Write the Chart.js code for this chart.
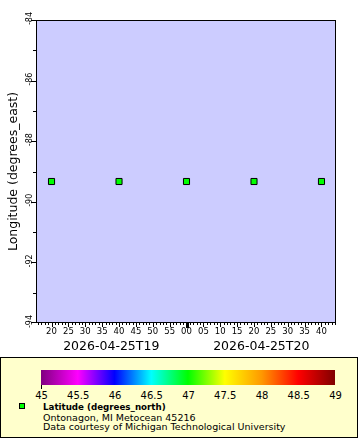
<!DOCTYPE html>
<html><head><meta charset="utf-8">
<script src="https://cdn.jsdelivr.net/npm/chart.js@4.4.1/dist/chart.umd.min.js"></script>
<style>
html,body{margin:0;padding:0;background:#fff;}
body{width:360px;height:440px;position:relative;overflow:hidden;font-family:"DejaVu Sans",sans-serif;color:#000;}
#wrap{position:absolute;left:0;top:0;width:360px;height:355px;}
#legend{position:absolute;left:0;top:357px;width:356px;height:79px;border:1px solid #000;background:#ffffcc;}
#cbar{position:absolute;left:40px;top:12px;width:294px;height:15px;}
.cbt{position:absolute;top:27px;width:1px;height:4px;background:#000;}
.cbl{position:absolute;top:32px;font-size:10px;line-height:12px;transform:translateX(-50%);white-space:nowrap;}
#lmark{position:absolute;left:18px;top:45px;width:4px;height:4px;border:1px solid #000;background:#00ff00;}
#ltext{position:absolute;left:42px;top:45px;white-space:nowrap;}
#ltext div{height:9.5px;line-height:9.5px;}
.b{font-weight:bold;font-size:8.7px;}
.r{font-size:9.5px;}
</style>
</head><body>
<div id="wrap"><canvas id="c" width="360" height="355"></canvas></div>
<div id="legend">
  <div id="cbar"></div>
  <div id="lmark"></div>
  <div id="ltext">
    <div class="b">Latitude (degrees_north)</div>
    <div class="r">Ontonagon, MI Metocean 45216</div>
    <div class="r">Data courtesy of Michigan Technological University</div>
  </div>
</div>
<script>
// ---- data (times are minutes after 2026-04-25T19:00) ----
const times = ["19:20", "19:40", "20:00", "20:20", "20:40"];
const longitudes = [-89.33, -89.33, -89.33, -89.33, -89.33];
const xTickValues = [20, 25, 30, 35, 40, 45, 50, 55, 60, 65, 70, 75, 80, 85, 90, 95, 100];
const xTickLabels = ["20","25","30","35","40","45","50","55","00","05","10","15","20","25","30","35","40"];
const yTickValues = [-94, -92, -90, -88, -86, -84];
const yTickLabels = ["-94", "-92", "-90", "-88", "-86", "-84"];
const yMinorValues = [-93, -91, -89, -87, -85];
const dateLabels = ["2026-04-25T19", "2026-04-25T20"];
const dateStarts = [0, 60];
const cbValues = [45, 45.5, 46, 46.5, 47, 47.5, 48, 48.5, 49];
const cbLabels = ["45", "45.5", "46", "46.5", "47", "47.5", "48", "48.5", "49"];
const cbColors = ["#800080", "#ff00ff", "#0000ff", "#00ffff", "#00ff00", "#ffff00", "#ff9900", "#ff0000", "#800000"];

const toMin = s => { const [h, m] = s.split(":").map(Number); return (h - 19) * 60 + m; };
const points = times.map((t, i) => ({x: toMin(t), y: longitudes[i]}));

// colour bar (legend)
(function(){
  const bar = document.getElementById('cbar');
  const lo = cbValues[0], hi = cbValues[cbValues.length - 1];
  const stops = cbValues.map((v, i) => cbColors[i] + ' ' + ((v - lo) / (hi - lo) * 100) + '%');
  bar.style.background = 'linear-gradient(to right,' + stops.join(',') + ')';
  const leg = document.getElementById('legend');
  const t = document.createElement('div'); t.className = 'cbt'; t.style.left = '40px'; leg.appendChild(t);
  cbValues.forEach((v, i) => {
    const px = 40 + (v - lo) / (hi - lo) * 294;
    const l = document.createElement('div'); l.className = 'cbl'; l.style.left = (px + 0.5) + 'px'; l.textContent = cbLabels[i]; leg.appendChild(l);
  });
})();

const F = '"DejaVu Sans", sans-serif';

const framePlugin = {
  id: 'frame',
  beforeDraw(chart) {
    const {ctx, chartArea: a} = chart;
    ctx.save();
    ctx.fillStyle = '#ccccff';
    ctx.fillRect(a.left, a.top, a.right - a.left, a.bottom - a.top);
    ctx.restore();
  },
  afterDraw(chart) {
    const {ctx, chartArea: a} = chart;
    const xs = chart.scales.x, ys = chart.scales.y;
    ctx.save();
    ctx.strokeStyle = '#000';
    ctx.lineWidth = 1;
    ctx.strokeRect(a.left + 0.5, a.top + 0.5, a.right - a.left - 1, a.bottom - a.top - 1);
    // x ticks
    ctx.fillStyle = '#000';
    for (let m = Math.ceil(xs.min); m <= xs.max; m++) {
      const px = Math.round(xs.getPixelForValue(m));
      let len = 2, w = 1;
      if (m % 60 === 0) { len = 5; w = 3; }
      else if (m % 5 === 0) { len = 4; }
      ctx.fillRect(px - Math.floor(w / 2), a.bottom, w, len);
    }
    // y ticks
    yTickValues.forEach(v => {
      const py = Math.round(ys.getPixelForValue(v));
      ctx.fillRect(a.left - 5, Math.min(py, a.bottom - 1), 5, 1);
    });
    yMinorValues.forEach(v => {
      const py = Math.round(ys.getPixelForValue(v));
      ctx.fillRect(a.left - 3, py, 3, 1);
    });
    // date labels
    ctx.font = '12.5px ' + F;
    ctx.textAlign = 'center';
    ctx.textBaseline = 'middle';
    dateLabels.forEach((txt, i) => {
      const s = Math.max(dateStarts[i], xs.min), e = Math.min(dateStarts[i] + 60, xs.max);
      const cx = (xs.getPixelForValue(s) + xs.getPixelForValue(e)) / 2;
      ctx.fillText(txt, cx, 347);
    });
    ctx.restore();
  }
};

new Chart(document.getElementById('c'), {
  type: 'scatter',
  data: {
    datasets: [{
      data: points,
      pointStyle: 'rect',
      pointRadius: 4.3,
      pointHoverRadius: 4.3,
      pointBackgroundColor: '#00ff00',
      pointBorderColor: '#000',
      pointBorderWidth: 1
    }]
  },
  options: {
    responsive: false,
    animation: false,
    events: [],
    layout: {padding: {top: 20, right: 24, left: 0, bottom: 0}},
    plugins: {legend: {display: false}, tooltip: {enabled: false}},
    scales: {
      x: {
        type: 'linear',
        min: 15.4, max: 104.3,
        afterFit: s => { s.height = 32; },
        afterBuildTicks: s => { s.ticks = xTickValues.map(v => ({value: v})); },
        grid: {display: false, drawTicks: false},
        border: {display: false},
        ticks: {
          autoSkip: false, maxRotation: 0, minRotation: 0, padding: 4,
          color: '#000', font: {family: F, size: 8.5},
          callback: (v) => { const i = xTickValues.indexOf(v); return i >= 0 ? xTickLabels[i] : ''; }
        }
      },
      y: {
        type: 'linear',
        min: -94, max: -84,
        afterFit: s => { s.width = 36; },
        afterBuildTicks: s => { s.ticks = yTickValues.map(v => ({value: v})); },
        grid: {display: false, drawTicks: false},
        border: {display: false},
        title: {display: true, text: 'Longitude (degrees_east)', color: '#000', font: {family: F, size: 12.5}, padding: {top: 6, bottom: 0}},
        ticks: {
          autoSkip: false, minRotation: 90, maxRotation: 90, padding: 0, crossAlign: 'center', labelOffset: -1.5,
          color: '#000', font: {family: F, size: 8},
          callback: v => { const i = yTickValues.indexOf(v); return i >= 0 ? yTickLabels[i] : ''; }
        }
      }
    }
  },
  plugins: [framePlugin]
});
</script>
</body></html>
